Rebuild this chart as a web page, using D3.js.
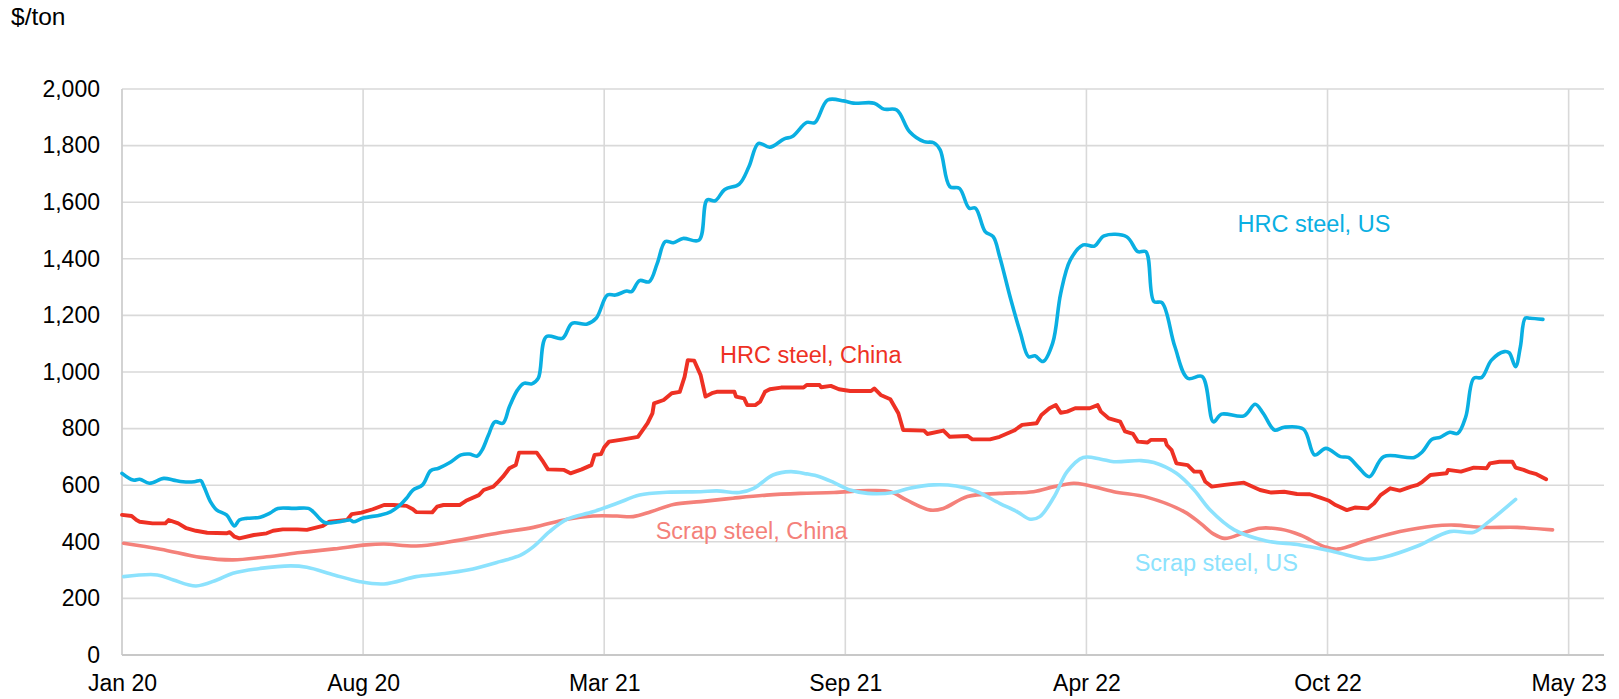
<!DOCTYPE html>
<html>
<head>
<meta charset="utf-8">
<script src="https://cdn.jsdelivr.net/npm/d3@7/dist/d3.min.js"></script>
<style>
  html, body { margin: 0; padding: 0; background: #ffffff; }
  svg { display: block; font-family: "Liberation Sans", Arial, Helvetica, sans-serif; }
</style>
</head>
<body>
<svg id="chart" width="1619" height="699"></svg>
<script>
// Observation index along the x axis (one label every 150 observations)
const tickStep = 150;
const tickLabels = ["Jan 20", "Aug 20", "Mar 21", "Sep 21", "Apr 22", "Oct 22", "May 23"];
const yTicks = [0, 200, 400, 600, 800, 1000, 1200, 1400, 1600, 1800, 2000];

// [observation, $/ton]
const hrcUS = [
  [0,642],[7,618],[11,621],[17,607],[26,624],[32,618],[38,612],[45,612],[49,616],[51,595],
  [55,542],[59,512],[65,495],[70,456],[73,477],[78,483],[86,487],[92,501],[97,518],[107,518],
  [116,518],[119,506],[126,468],[134,470],[142,477],[144,471],[150,484],[161,495],[167,506],
  [173,530],[177,554],[181,583],[187,601],[192,651],[197,660],[204,680],[211,707],[216,710],
  [221,703],[224,724],[228,777],[232,824],[237,819],[241,877],[246,936],[250,960],[255,958],
  [259,978],[264,1125],[274,1119],[280,1172],[289,1169],[295,1190],[302,1272],[307,1272],
  [314,1286],[317,1284],[322,1323],[328,1319],[333,1384],[338,1461],[343,1457],[349,1472],
  [359,1466],[364,1608],[369,1605],[375,1645],[384,1664],[390,1725],[396,1808],[403,1794],
  [412,1824],[417,1832],[426,1882],[431,1881],[439,1961],[449,1958],[455,1950],[468,1950],
  [474,1929],[482,1926],[490,1849],[499,1814],[505,1810],[509,1785],[515,1655],[521,1649],
  [527,1579],[531,1579],[537,1496],[542,1478],[546,1408],[553,1255],[559,1137],[564,1054],
  [568,1057],[573,1037],[579,1102],[584,1278],[590,1396],[598,1449],[605,1445],[611,1481],
  [625,1478],[632,1425],[637,1425],[642,1249],[647,1245],[655,1090],[663,978],[672,984],
  [679,824],[684,851],[698,845],[705,886],[710,854],[717,795],[723,805],[735,798],[742,707],
  [749,730],[758,701],[763,698],[769,665],[776,630],[785,701],[804,698],[809,718],[815,762],
  [820,769],[826,787],[831,783],[836,842],[841,978],[846,981],[852,1042],[860,1072],[863,1068],
  [867,1019],[870,1090],[873,1190],[876,1190],[884,1186]
];

const hrcChina = [
  [0,495],[6,491],[9,477],[11,471],[19,465],[27,465],[29,477],[35,465],[40,448],[46,439],
  [53,432],[65,430],[67,434],[70,418],[73,412],[82,424],[90,430],[94,439],[100,444],[109,444],
  [115,442],[125,456],[129,471],[140,477],[143,498],[149,503],[156,515],[163,530],[169,530],
  [177,527],[181,515],[183,505],[193,504],[196,524],[200,530],[210,530],[214,545],[222,565],
  [225,583],[231,595],[234,612],[237,630],[241,660],[245,671],[247,715],[258,715],[262,683],
  [265,656],[275,654],[279,642],[286,656],[292,671],[294,707],[298,710],[300,734],[303,754],
  [312,762],[321,771],[327,819],[330,854],[331,889],[337,901],[342,925],[347,930],[350,983],
  [352,1042],[356,1040],[360,989],[363,913],[367,925],[370,930],[381,930],[382,913],[387,907],
  [389,883],[394,883],[397,895],[400,930],[403,939],[410,945],[424,945],[426,954],[434,954],
  [435,946],[441,951],[446,939],[453,933],[466,933],[468,942],[472,919],[478,904],[483,854],
  [486,795],[499,793],[501,781],[511,793],[515,771],[526,774],[529,762],[540,762],[546,771],
  [555,793],[560,813],[569,819],[572,848],[577,872],[581,883],[584,856],[588,860],[593,872],
  [602,872],[607,883],[609,860],[614,836],[621,825],[624,790],[629,781],[632,754],[638,751],
  [640,760],[649,760],[650,742],[653,724],[656,677],[663,671],[667,648],[671,648],[674,612],
  [678,595],[686,601],[698,609],[708,583],[715,574],[723,577],[731,569],[739,568],[745,557],
  [751,545],[755,530],[762,512],[767,521],[775,518],[779,536],[783,565],[789,589],[795,581],
  [802,595],[806,601],[809,612],[814,636],[824,642],[825,654],[833,648],[841,662],[849,660],
  [851,677],[857,683],[865,683],[867,662],[872,654],[876,645],[880,639],[886,621]
];

const scrapChina = [
  [1,395],[24,374],[49,345],[69,336],[90,347],[111,362],[132,375],[152,389],[163,392],[183,385],
  [204,400],[235,432],[256,451],[277,480],[293,491],[308,491],[318,489],[329,506],[343,532],
  [360,542],[380,554],[401,565],[422,571],[443,574],[464,581],[478,577],[488,548],[503,512],
  [511,518],[526,560],[546,571],[567,577],[580,595],[592,607],[600,601],[617,577],[638,557],
  [661,506],[671,465],[679,428],[686,412],[698,432],[708,448],[721,444],[733,424],[748,383],
  [756,374],[775,406],[795,436],[816,456],[829,459],[847,451],[868,451],[890,442]
];

const scrapUS = [
  [1,277],[22,283],[32,265],[46,244],[59,265],[69,289],[86,306],[105,315],[115,310],[132,283],
  [148,259],[163,251],[183,277],[198,286],[215,300],[235,330],[248,353],[256,383],[266,436],
  [277,480],[293,506],[308,536],[322,565],[339,575],[360,577],[370,580],[384,574],[393,589],
  [405,636],[416,648],[426,640],[434,630],[443,609],[453,583],[464,571],[480,574],[490,589],
  [505,601],[519,597],[532,577],[546,536],[557,506],[565,480],[571,489],[580,560],[588,648],
  [598,698],[609,692],[617,683],[634,687],[642,680],[656,642],[667,583],[677,512],[692,442],
  [712,403],[733,389],[754,365],[775,338],[785,345],[806,385],[826,436],[841,434],[849,465],
  [867,550]
];

const seriesNames = ["Scrap steel, China", "Scrap steel, US", "HRC steel, China", "HRC steel, US"];
const seriesData = [scrapChina, scrapUS, hrcChina, hrcUS];
// Where each series name sits, in [observation, $/ton]
const labelAnchors = [[332, 410], [630, 297], [372, 1031], [694, 1496]];

// ---- styling ----
const colors = {
  "HRC steel, US": "#0aafe2",
  "HRC steel, China": "#ee3124",
  "Scrap steel, China": "#f4817a",
  "Scrap steel, US": "#8ce2fd"
};
const curves = {
  "HRC steel, US": d3.curveCatmullRom.alpha(0.5),
  "HRC steel, China": d3.curveLinear,
  "Scrap steel, China": d3.curveCatmullRom.alpha(0.5),
  "Scrap steel, US": d3.curveCatmullRom.alpha(0.5)
};

const svg = d3.select("#chart");
const plot = { left: 122, right: 1604, top: 89, bottom: 655 };

const x = d3.scaleLinear().domain([0, 922]).range([plot.left, plot.right]);
const y = d3.scaleLinear().domain([0, 2000]).range([plot.bottom, plot.top]);
const xTicks = tickLabels.map((_, i) => i * tickStep);

// gridlines
const grid = svg.append("g").attr("stroke", "#d9d9d9").attr("stroke-width", 1.6);
grid.selectAll("line.h").data(yTicks.filter(d => d > 0)).join("line")
  .attr("class", "h")
  .attr("x1", plot.left).attr("x2", plot.right)
  .attr("y1", d => y(d)).attr("y2", d => y(d));
grid.selectAll("line.v").data(xTicks.filter(d => d > 0)).join("line")
  .attr("class", "v")
  .attr("x1", d => x(d)).attr("x2", d => x(d))
  .attr("y1", plot.top).attr("y2", plot.bottom);

// axis lines
svg.append("line")
  .attr("x1", plot.left).attr("x2", plot.left)
  .attr("y1", plot.top).attr("y2", plot.bottom)
  .attr("stroke", "#cfcfcf").attr("stroke-width", 1.8);
svg.append("line")
  .attr("x1", plot.left).attr("x2", plot.right)
  .attr("y1", plot.bottom).attr("y2", plot.bottom)
  .attr("stroke", "#c8c8c8").attr("stroke-width", 1.8);

// axes (labels only)
const yAxis = svg.append("g")
  .attr("transform", `translate(${plot.left},0)`)
  .call(d3.axisLeft(y).tickValues(yTicks).tickFormat(d3.format(",")).tickSize(0).tickPadding(22));
const xAxis = svg.append("g")
  .attr("transform", `translate(0,${plot.bottom})`)
  .call(d3.axisBottom(x).tickValues(xTicks).tickFormat((d, i) => tickLabels[i]).tickSize(0).tickPadding(20));
[yAxis, xAxis].forEach(g => {
  g.select(".domain").remove();
  g.selectAll("text").attr("font-size", 23).attr("fill", "#000")
    .attr("font-family", "'Liberation Sans', Arial, sans-serif");
});

// unit label
svg.append("text")
  .attr("x", 11).attr("y", 25)
  .attr("font-size", 24.5).attr("fill", "#000")
  .text("$/ton");

// series lines
seriesNames.forEach((name, i) => {
  const line = d3.line()
    .x(d => x(d[0]))
    .y(d => y(d[1]))
    .curve(curves[name]);
  svg.append("path")
    .datum(seriesData[i])
    .attr("fill", "none")
    .attr("stroke", colors[name])
    .attr("stroke-width", name === "HRC steel, China" ? 3.9 : 3.6)
    .attr("stroke-linejoin", "round")
    .attr("stroke-linecap", "round")
    .attr("d", line);
});

// series names
seriesNames.forEach((name, i) => {
  svg.append("text")
    .attr("x", x(labelAnchors[i][0]))
    .attr("y", y(labelAnchors[i][1]))
    .attr("font-size", 23.5)
    .attr("fill", colors[name])
    .text(name);
});
</script>
</body>
</html>
